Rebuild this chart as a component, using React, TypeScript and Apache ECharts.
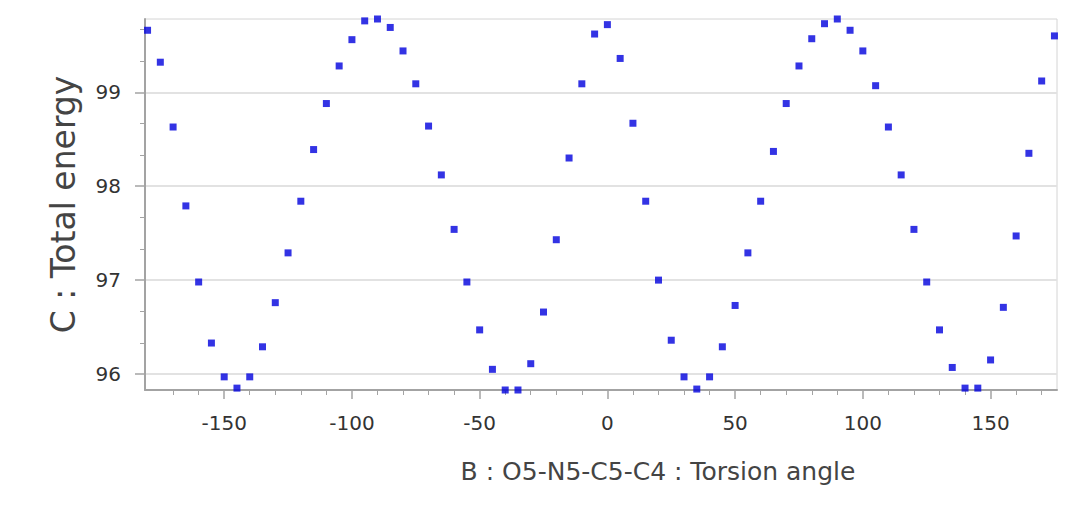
import React, { useEffect, useRef } from "react";
import * as echarts from "echarts";

// Torsion angle (degrees)
const angles = [
  -180, -175, -170, -165, -160, -155, -150, -145, -140, -135, -130, -125,
  -120, -115, -110, -105, -100, -95, -90, -85, -80, -75, -70, -65,
  -60, -55, -50, -45, -40, -35, -30, -25, -20, -15, -10, -5,
  0, 5, 10, 15, 20, 25, 30, 35, 40, 45, 50, 55,
  60, 65, 70, 75, 80, 85, 90, 95, 100, 105, 110, 115,
  120, 125, 130, 135, 140, 145, 150, 155, 160, 165, 170, 175,
];

// Total energy
const energies = [
  99.66, 99.32, 98.63, 97.79, 96.98, 96.33, 95.97, 95.85, 95.97, 96.29, 96.76, 97.29,
  97.84, 98.39, 98.88, 99.28, 99.56, 99.76, 99.78, 99.69, 99.44, 99.09, 98.64, 98.12,
  97.54, 96.98, 96.47, 96.05, 95.83, 95.83, 96.11, 96.66, 97.43, 98.3, 99.09, 99.62,
  99.72, 99.36, 98.67, 97.84, 97.0, 96.36, 95.97, 95.84, 95.97, 96.29, 96.73, 97.29,
  97.84, 98.37, 98.88, 99.28, 99.57, 99.73, 99.78, 99.66, 99.44, 99.07, 98.63, 98.12,
  97.54, 96.98, 96.47, 96.07, 95.85, 95.85, 96.15, 96.71, 97.47, 98.35, 99.12, 99.6,
];

const xMajorTicks = [-150, -100, -50, 0, 50, 100, 150];
const xMinorTicks = [
  -170, -160, -140, -130, -120, -110, -90, -80, -70, -60, -40, -30, -20, -10,
  10, 20, 30, 40, 60, 70, 80, 90, 110, 120, 130, 140, 160, 170,
];
const yMajorTicks = [96, 97, 98, 99];
const yMinorTicks = [96.333, 96.667, 97.333, 97.667, 98.333, 98.667, 99.333, 99.667];

const xName = "B : O5-N5-C5-C4 : Torsion angle";
const yName = "C : Total energy";

const X_MIN = -181;
const X_MAX = 176;
const Y_MIN = 95.83;
const Y_MAX = 99.78;

const AXIS_GRAY = "#a3a3a3";
const FONT = "DejaVu Sans";

export default function App() {
  const ref = useRef<HTMLDivElement>(null);

  useEffect(() => {
    if (!ref.current) return;
    const chart = echarts.init(ref.current, undefined, { renderer: "svg" });
    const data = angles.map((a, i) => [a, energies[i]]);

    chart.setOption({
      animation: false,
      backgroundColor: "#ffffff",
      grid: {
        left: 145,
        right: 23,
        top: 19,
        bottom: 120,
        show: true,
        borderColor: "#d4d4d4",
        borderWidth: 1,
        backgroundColor: "transparent",
      },
      xAxis: [
        {
          type: "value",
          min: X_MIN,
          max: X_MAX,
          position: "bottom",
          name: xName,
          nameLocation: "middle",
          nameGap: 69,
          nameTextStyle: {
            fontFamily: FONT,
            fontSize: 25,
            color: "#444",
            padding: [0, 0, 0, 114],
          },
          axisLine: { show: true, onZero: false, lineStyle: { color: AXIS_GRAY, width: 2 } },
          axisTick: {
            show: true,
            length: 9,
            customValues: xMajorTicks,
            lineStyle: { color: AXIS_GRAY, width: 1.5 },
          },
          axisLabel: {
            customValues: xMajorTicks,
            margin: 23,
            fontFamily: FONT,
            fontSize: 20,
            color: "#333",
          },
          splitLine: { show: false },
        },
        {
          type: "value",
          min: X_MIN,
          max: X_MAX,
          position: "bottom",
          axisLine: { show: false, onZero: false },
          axisTick: {
            show: true,
            length: 5,
            customValues: xMinorTicks,
            lineStyle: { color: AXIS_GRAY, width: 1 },
          },
          axisLabel: { show: false },
          splitLine: { show: false },
        },
      ],
      yAxis: [
        {
          type: "value",
          min: Y_MIN,
          max: Y_MAX,
          position: "left",
          name: yName,
          nameLocation: "middle",
          nameGap: 65,
          nameTextStyle: { fontFamily: FONT, fontSize: 33, color: "#444" },
          axisLine: { show: true, onZero: false, lineStyle: { color: AXIS_GRAY, width: 2 } },
          axisTick: {
            show: true,
            length: 10,
            customValues: yMajorTicks,
            lineStyle: { color: AXIS_GRAY, width: 1.5 },
          },
          axisLabel: {
            customValues: yMajorTicks,
            margin: 24,
            fontFamily: FONT,
            fontSize: 20,
            color: "#333",
          },
          splitLine: {
            show: true,
            lineStyle: { color: "#e2e2e2", width: 2 },
          },
        },
        {
          type: "value",
          min: Y_MIN,
          max: Y_MAX,
          position: "left",
          axisLine: { show: false, onZero: false },
          axisTick: {
            show: true,
            length: 5,
            customValues: yMinorTicks,
            lineStyle: { color: AXIS_GRAY, width: 1 },
          },
          axisLabel: { show: false },
          splitLine: { show: false },
        },
      ],
      series: [
        {
          type: "scatter",
          xAxisIndex: 0,
          yAxisIndex: 0,
          symbol: "rect",
          symbolSize: 7,
          itemStyle: { color: "#0000dd" },
          data,
          clip: true,
          z: 5,
        },
      ],
    });

    return () => chart.dispose();
  }, []);

  return (
    <div
      ref={ref}
      style={{ position: "absolute", left: 0, top: 0, width: 1080, height: 510 }}
    />
  );
}
